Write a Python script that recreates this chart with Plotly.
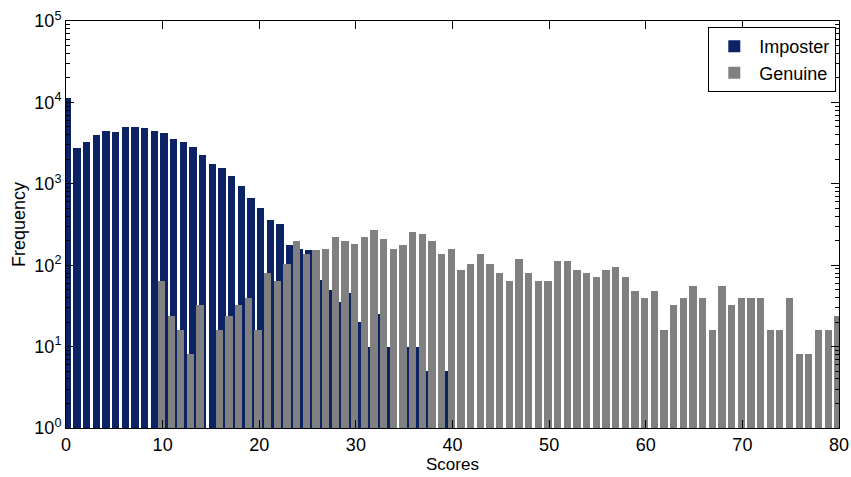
import plotly.graph_objects as go

# Imposter histogram (bin centers, counts)
imposter_x = [0.14, 1.14, 2.14, 3.14, 4.14, 5.14, 6.14, 7.14, 8.14, 9.14,
              10.14, 11.14, 12.14, 13.14, 14.14, 15.14, 16.14, 17.14, 18.14, 19.14,
              20.14, 21.14, 22.14, 23.14, 24.14, 25.14, 26.14, 27.14, 28.14, 29.14,
              30.14, 31.14, 32.14, 33.14, 34.14, 35.14, 36.14, 37.14, 38.14, 39.14]
imposter_y = [11200, 2730, 3240, 3940, 4420, 4300, 4950, 4950, 4810, 4420,
              4200, 3520, 3240, 2800, 2230, 1730, 1550, 1240, 927, 660,
              510, 363, 325, 175, 160, 155, 65, 50, 35, 45,
              20, 10, 25, 10, 0, 10, 10, 5, 0, 5]

# Genuine histogram (bin centers, counts)
genuine_x = [k - 0.12 for k in range(10, 81)]
genuine_y = [64, 24, 16, 8, 32, 0, 16, 24, 32, 40,
             16, 80, 64, 104, 200, 136, 152, 160, 224, 200,
             184, 224, 272, 208, 160, 176, 256, 240, 200, 136,
             160, 88, 104, 136, 104, 80, 64, 120, 80, 64,
             64, 112, 112, 88, 80, 72, 88, 96, 72, 48,
             40, 48, 16, 32, 40, 56, 40, 16, 56, 32,
             40, 40, 40, 16, 16, 40, 8, 8, 16, 16,
             24]

y_tickvals = [1, 10, 100, 1000, 10000, 100000]
y_ticktext = ["10<sup>0</sup>", "10<sup>1</sup>", "10<sup>2</sup>",
              "10<sup>3</sup>", "10<sup>4</sup>", "10<sup>5</sup>"]
x_tickvals = [0, 10, 20, 30, 40, 50, 60, 70, 80]

imp_plot = [v if v > 0 else None for v in imposter_y]
gen_plot = [v if v > 0 else None for v in genuine_y]

fig = go.Figure()
fig.add_trace(go.Bar(x=imposter_x, y=imp_plot, name="Imposter",
                     marker=dict(color="#0b2265", line=dict(width=0)),
                     width=0.75))
fig.add_trace(go.Bar(x=genuine_x, y=gen_plot, name="Genuine",
                     marker=dict(color="#808080", line=dict(width=0)),
                     width=0.75))

font_family = "Liberation Sans, Arial, Helvetica, sans-serif"
fig.update_layout(
    width=851, height=477,
    margin=dict(l=66, r=12, t=21, b=49),
    paper_bgcolor="white", plot_bgcolor="white",
    barmode="overlay", bargap=0,
    font=dict(family=font_family, size=18, color="black"),
    legend=dict(x=0.9965, y=0.985, xanchor="right", yanchor="top",
                bordercolor="black", borderwidth=1, bgcolor="white",
                font=dict(size=18), tracegroupgap=0, itemwidth=40),
    showlegend=True,
)
fig.update_xaxes(
    range=[0, 80], tickvals=x_tickvals, ticks="inside", ticklen=8,
    tickcolor="black", showline=True, linecolor="black", linewidth=1,
    mirror="ticks", showgrid=False, zeroline=False, automargin=False,
    tickfont=dict(size=18),
    title=dict(text="Scores", standoff=2, font=dict(size=17)),
)
fig.update_yaxes(
    type="log", range=[0, 5], tickvals=y_tickvals, ticktext=y_ticktext,
    ticks="inside", ticklen=8, tickcolor="black", showline=True,
    linecolor="black", linewidth=1, mirror="ticks", showgrid=False,
    zeroline=False, automargin=False, tickfont=dict(size=18),
    minor=dict(ticks="inside", ticklen=4, tickcolor="black", dtick="D1", showgrid=False),
    title=dict(text="Frequency", standoff=4, font=dict(size=18)),
)

fig.write_html("out.html")
